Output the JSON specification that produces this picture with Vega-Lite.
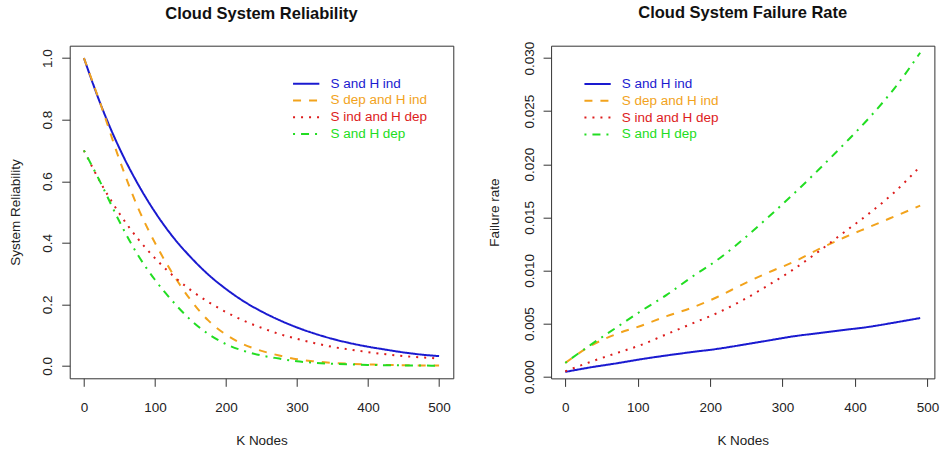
{
  "$schema": "https://vega.github.io/schema/vega-lite/v6.json",
  "background": "white",
  "padding": {"left": 7.7, "top": 4.7, "right": 0, "bottom": 0},
  "bounds": "flush",
  "spacing": 97.4,
  "config": {
    "font": "Liberation Sans",
    "view": {"stroke": "#333", "strokeWidth": 1},
    "axis": {
      "domain": false, "grid": false,
      "tickColor": "#333", "tickSize": 8, "tickWidth": 1,
      "labelFont": "Liberation Sans", "labelFontSize": 13.5, "labelColor": "#222",
      "titleFont": "Liberation Sans", "titleFontSize": 13.5, "titleFontWeight": "normal", "titleColor": "#222"
    },
    "axisX": {"labelPadding": 14, "labelBaseline": "top", "titleY": 66.5, "titleBaseline": "alphabetic"},
    "axisY": {"labelAngle": -90, "labelAlign": "center", "labelBaseline": "alphabetic", "labelPadding": 10, "titleBaseline": "alphabetic", "titleAngle": -90},
    "legend": {
      "orient": "none", "title": null, "padding": 0,
      "symbolType": "M-2,0L2,0", "symbolSize": 173, "symbolStrokeWidth": 2,
      "labelFont": "Liberation Sans", "labelFontSize": 13.5, "labelOffset": 16.2,
      "rowPadding": 1.8
    },
    "title": {"font": "Liberation Sans", "fontSize": 16.5, "fontWeight": "bold", "color": "#111", "anchor": "middle", "frame": "group", "baseline": "alphabetic"}
  },
  "datasets": {
    "rel": [
      {"k":0,"v":1.0,"s":"S and H ind"},{"k":25,"v":0.841,"s":"S and H ind"},{"k":50,"v":0.707,"s":"S and H ind"},{"k":75,"v":0.595,"s":"S and H ind"},{"k":100,"v":0.5,"s":"S and H ind"},{"k":125,"v":0.42,"s":"S and H ind"},{"k":150,"v":0.354,"s":"S and H ind"},{"k":175,"v":0.297,"s":"S and H ind"},{"k":200,"v":0.25,"s":"S and H ind"},{"k":225,"v":0.21,"s":"S and H ind"},{"k":250,"v":0.177,"s":"S and H ind"},{"k":275,"v":0.149,"s":"S and H ind"},{"k":300,"v":0.125,"s":"S and H ind"},{"k":325,"v":0.105,"s":"S and H ind"},{"k":350,"v":0.088,"s":"S and H ind"},{"k":375,"v":0.074,"s":"S and H ind"},{"k":400,"v":0.0625,"s":"S and H ind"},{"k":425,"v":0.053,"s":"S and H ind"},{"k":450,"v":0.044,"s":"S and H ind"},{"k":475,"v":0.037,"s":"S and H ind"},{"k":500,"v":0.032,"s":"S and H ind"},
      {"k":0,"v":1.0,"s":"S dep and H ind"},{"k":25,"v":0.84,"s":"S dep and H ind"},{"k":50,"v":0.67,"s":"S dep and H ind"},{"k":75,"v":0.52,"s":"S dep and H ind"},{"k":100,"v":0.4,"s":"S dep and H ind"},{"k":125,"v":0.3,"s":"S dep and H ind"},{"k":150,"v":0.215,"s":"S dep and H ind"},{"k":175,"v":0.148,"s":"S dep and H ind"},{"k":200,"v":0.102,"s":"S dep and H ind"},{"k":225,"v":0.07,"s":"S dep and H ind"},{"k":250,"v":0.049,"s":"S dep and H ind"},{"k":275,"v":0.034,"s":"S dep and H ind"},{"k":300,"v":0.022,"s":"S dep and H ind"},{"k":325,"v":0.015,"s":"S dep and H ind"},{"k":350,"v":0.01,"s":"S dep and H ind"},{"k":375,"v":0.007,"s":"S dep and H ind"},{"k":400,"v":0.005,"s":"S dep and H ind"},{"k":425,"v":0.0035,"s":"S dep and H ind"},{"k":450,"v":0.0025,"s":"S dep and H ind"},{"k":475,"v":0.0018,"s":"S dep and H ind"},{"k":500,"v":0.0012,"s":"S dep and H ind"},
      {"k":0,"v":0.7,"s":"S ind and H dep"},{"k":25,"v":0.589,"s":"S ind and H dep"},{"k":50,"v":0.495,"s":"S ind and H dep"},{"k":75,"v":0.416,"s":"S ind and H dep"},{"k":100,"v":0.35,"s":"S ind and H dep"},{"k":125,"v":0.294,"s":"S ind and H dep"},{"k":150,"v":0.247,"s":"S ind and H dep"},{"k":175,"v":0.208,"s":"S ind and H dep"},{"k":200,"v":0.175,"s":"S ind and H dep"},{"k":225,"v":0.147,"s":"S ind and H dep"},{"k":250,"v":0.124,"s":"S ind and H dep"},{"k":275,"v":0.104,"s":"S ind and H dep"},{"k":300,"v":0.088,"s":"S ind and H dep"},{"k":325,"v":0.074,"s":"S ind and H dep"},{"k":350,"v":0.062,"s":"S ind and H dep"},{"k":375,"v":0.053,"s":"S ind and H dep"},{"k":400,"v":0.045,"s":"S ind and H dep"},{"k":425,"v":0.038,"s":"S ind and H dep"},{"k":450,"v":0.032,"s":"S ind and H dep"},{"k":475,"v":0.028,"s":"S ind and H dep"},{"k":500,"v":0.024,"s":"S ind and H dep"},
      {"k":0,"v":0.7,"s":"S and H dep"},{"k":25,"v":0.588,"s":"S and H dep"},{"k":50,"v":0.469,"s":"S and H dep"},{"k":75,"v":0.364,"s":"S and H dep"},{"k":100,"v":0.28,"s":"S and H dep"},{"k":125,"v":0.21,"s":"S and H dep"},{"k":150,"v":0.15,"s":"S and H dep"},{"k":175,"v":0.104,"s":"S and H dep"},{"k":200,"v":0.071,"s":"S and H dep"},{"k":225,"v":0.049,"s":"S and H dep"},{"k":250,"v":0.034,"s":"S and H dep"},{"k":275,"v":0.024,"s":"S and H dep"},{"k":300,"v":0.015,"s":"S and H dep"},{"k":325,"v":0.0105,"s":"S and H dep"},{"k":350,"v":0.007,"s":"S and H dep"},{"k":375,"v":0.005,"s":"S and H dep"},{"k":400,"v":0.0035,"s":"S and H dep"},{"k":425,"v":0.0025,"s":"S and H dep"},{"k":450,"v":0.0018,"s":"S and H dep"},{"k":475,"v":0.0013,"s":"S and H dep"},{"k":500,"v":0.0008,"s":"S and H dep"}
    ],
    "fail": [
      {"k":0,"v":0.00045,"s":"S and H ind"},{"k":35,"v":0.00088,"s":"S and H ind"},{"k":70,"v":0.00125,"s":"S and H ind"},{"k":105,"v":0.00165,"s":"S and H ind"},{"k":140,"v":0.002,"s":"S and H ind"},{"k":175,"v":0.00232,"s":"S and H ind"},{"k":210,"v":0.00262,"s":"S and H ind"},{"k":245,"v":0.003,"s":"S and H ind"},{"k":280,"v":0.0034,"s":"S and H ind"},{"k":315,"v":0.0038,"s":"S and H ind"},{"k":350,"v":0.0041,"s":"S and H ind"},{"k":385,"v":0.0044,"s":"S and H ind"},{"k":420,"v":0.0047,"s":"S and H ind"},{"k":455,"v":0.0051,"s":"S and H ind"},{"k":490,"v":0.00552,"s":"S and H ind"},
      {"k":0,"v":0.0013,"s":"S dep and H ind"},{"k":35,"v":0.0029,"s":"S dep and H ind"},{"k":70,"v":0.004,"s":"S dep and H ind"},{"k":105,"v":0.0048,"s":"S dep and H ind"},{"k":140,"v":0.0057,"s":"S dep and H ind"},{"k":175,"v":0.0065,"s":"S dep and H ind"},{"k":210,"v":0.0075,"s":"S dep and H ind"},{"k":245,"v":0.0087,"s":"S dep and H ind"},{"k":280,"v":0.0098,"s":"S dep and H ind"},{"k":315,"v":0.0108,"s":"S dep and H ind"},{"k":350,"v":0.012,"s":"S dep and H ind"},{"k":385,"v":0.0131,"s":"S dep and H ind"},{"k":420,"v":0.0141,"s":"S dep and H ind"},{"k":455,"v":0.0151,"s":"S dep and H ind"},{"k":490,"v":0.0161,"s":"S dep and H ind"},
      {"k":0,"v":0.0005,"s":"S ind and H dep"},{"k":35,"v":0.0014,"s":"S ind and H dep"},{"k":70,"v":0.0022,"s":"S ind and H dep"},{"k":105,"v":0.003,"s":"S ind and H dep"},{"k":140,"v":0.004,"s":"S ind and H dep"},{"k":175,"v":0.005,"s":"S ind and H dep"},{"k":210,"v":0.006,"s":"S ind and H dep"},{"k":245,"v":0.0072,"s":"S ind and H dep"},{"k":280,"v":0.0086,"s":"S ind and H dep"},{"k":315,"v":0.0101,"s":"S ind and H dep"},{"k":350,"v":0.0118,"s":"S ind and H dep"},{"k":385,"v":0.0136,"s":"S ind and H dep"},{"k":420,"v":0.0154,"s":"S ind and H dep"},{"k":455,"v":0.0174,"s":"S ind and H dep"},{"k":490,"v":0.0198,"s":"S ind and H dep"},
      {"k":0,"v":0.0013,"s":"S and H dep"},{"k":35,"v":0.003,"s":"S and H dep"},{"k":70,"v":0.0046,"s":"S and H dep"},{"k":105,"v":0.0062,"s":"S and H dep"},{"k":140,"v":0.0077,"s":"S and H dep"},{"k":175,"v":0.0094,"s":"S and H dep"},{"k":210,"v":0.011,"s":"S and H dep"},{"k":245,"v":0.0129,"s":"S and H dep"},{"k":280,"v":0.015,"s":"S and H dep"},{"k":315,"v":0.0172,"s":"S and H dep"},{"k":350,"v":0.0195,"s":"S and H dep"},{"k":385,"v":0.0219,"s":"S and H dep"},{"k":420,"v":0.0244,"s":"S and H dep"},{"k":455,"v":0.0272,"s":"S and H dep"},{"k":490,"v":0.0305,"s":"S and H dep"}
    ]
  },
  "resolve": {"scale": {"color": "independent", "strokeDash": "independent"}, "legend": {"color": "independent", "strokeDash": "independent"}},
  "hconcat": [
    {
      "width": 383.6, "height": 332.6,
      "title": {"text": "Cloud System Reliability", "offset": 23.3},
      "data": {"name": "rel"},
      "mark": {"type": "line", "strokeWidth": 2, "interpolate": "monotone", "clip": true},
      "encoding": {
        "x": {"field": "k", "type": "quantitative", "title": "K Nodes", "scale": {"domain": [-20, 520], "nice": false, "zero": false}, "axis": {"values": [0, 100, 200, 300, 400, 500]}},
        "y": {"field": "v", "type": "quantitative", "title": "System Reliability", "scale": {"domain": [-0.04, 1.04], "nice": false, "zero": false}, "axis": {"values": [0, 0.2, 0.4, 0.6, 0.8, 1.0], "format": ".1f", "titleX": -50}},
        "color": {"field": "s", "type": "nominal", "sort": null,
          "scale": {"domain": ["S and H ind", "S dep and H ind", "S ind and H dep", "S and H dep"], "range": ["#1a1ad0", "#f2a31c", "#dd1c1c", "#22dd22"]},
          "legend": {"legendX": 228.5, "legendY": 30, "encode": {"labels": {"update": {"fill": {"signal": "datum.value == 'S and H ind' ? '#1a1ad0' : datum.value == 'S dep and H ind' ? '#f2a31c' : datum.value == 'S ind and H dep' ? '#dd1c1c' : '#22dd22'"}}}}}},
        "strokeDash": {"field": "s", "type": "nominal", "sort": null,
          "scale": {"domain": ["S and H ind", "S dep and H ind", "S ind and H dep", "S and H dep"], "range": [[1, 0], [8, 8], [2, 6], [2, 6, 8, 6]]},
          "legend": {"legendX": 228.5, "legendY": 30, "encode": {"labels": {"update": {"fill": {"signal": "datum.value == 'S and H ind' ? '#1a1ad0' : datum.value == 'S dep and H ind' ? '#f2a31c' : datum.value == 'S ind and H dep' ? '#dd1c1c' : '#22dd22'"}}}}}}
      }
    },
    {
      "width": 383.3, "height": 332.7,
      "title": {"text": "Cloud System Failure Rate", "offset": 19.3},
      "data": {"name": "fail"},
      "mark": {"type": "line", "strokeWidth": 2, "interpolate": "monotone", "clip": true},
      "encoding": {
        "x": {"field": "k", "type": "quantitative", "title": "K Nodes", "scale": {"domain": [-19.6, 509.6], "nice": false, "zero": false}, "axis": {"values": [0, 100, 200, 300, 400, 500]}},
        "y": {"field": "v", "type": "quantitative", "title": "Failure rate", "scale": {"domain": [-0.00016, 0.03116], "nice": false, "zero": false}, "axis": {"values": [0, 0.005, 0.01, 0.015, 0.02, 0.025, 0.03], "format": ".3f", "titleX": -52.3}},
        "color": {"field": "s", "type": "nominal", "sort": null,
          "scale": {"domain": ["S and H ind", "S dep and H ind", "S ind and H dep", "S and H dep"], "range": ["#1a1ad0", "#f2a31c", "#dd1c1c", "#22dd22"]},
          "legend": {"legendX": 38.5, "legendY": 30.3, "encode": {"labels": {"update": {"fill": {"signal": "datum.value == 'S and H ind' ? '#1a1ad0' : datum.value == 'S dep and H ind' ? '#f2a31c' : datum.value == 'S ind and H dep' ? '#dd1c1c' : '#22dd22'"}}}}}},
        "strokeDash": {"field": "s", "type": "nominal", "sort": null,
          "scale": {"domain": ["S and H ind", "S dep and H ind", "S ind and H dep", "S and H dep"], "range": [[1, 0], [8, 8], [2, 6], [2, 6, 8, 6]]},
          "legend": {"legendX": 38.5, "legendY": 30.3, "encode": {"labels": {"update": {"fill": {"signal": "datum.value == 'S and H ind' ? '#1a1ad0' : datum.value == 'S dep and H ind' ? '#f2a31c' : datum.value == 'S ind and H dep' ? '#dd1c1c' : '#22dd22'"}}}}}}
      }
    }
  ]
}
